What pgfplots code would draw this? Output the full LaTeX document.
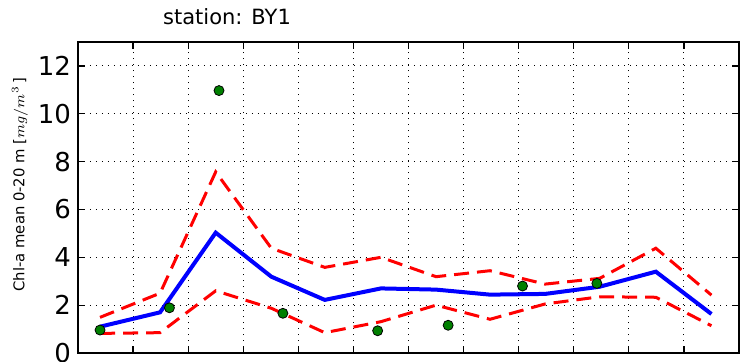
\documentclass[border=0pt]{standalone}
\usepackage{fontspec}
\setmainfont{DejaVu Sans}
\usepackage{pgfplots}
\pgfplotsset{compat=1.18}
\definecolor{mpgreen}{rgb}{0,0.5,0}
\begin{document}
\begin{tikzpicture}
\useasboundingbox (-39pt,-4pt) rectangle (331pt,176.5pt);
\begin{axis}[
 at={(0,0)}, anchor=south west,
 scale only axis, width=330.5pt, height=155.5pt,
 xmin=0, xmax=12, ymin=0, ymax=13,
 xtick={0,...,12}, xticklabels={},
 ytick={0,2,...,12},
 tick align=inside, major tick length=3.5pt,
 tick pos=both,
 yticklabel pos=left,
 grid=major,
 major grid style={black, line width=0.5pt, dash pattern=on 0.7pt off 2.3pt},
 axis line style={line width=0.9pt},
 tick style={black, line width=0.6pt},
 ticklabel style={font=\fontsize{13}{13}\selectfont},
 /pgf/number format/assume math mode=true,
 every axis title/.style={at={(axis description cs:0,1)}, anchor=center, xshift=74.5pt, yshift=12.5pt, font=\fontsize{10.5}{12}\selectfont},
 title={station: BY1},
 every axis y label/.style={at={(axis description cs:0,0.5)}, anchor=center, rotate=90, yshift=29pt, xshift=6.5pt, font=\fontsize{7.4}{8}\selectfont},
 ylabel={Chl-a mean 0-20 m [$mg/m^3\,$]},
]
\addplot[red, line width=1.5pt, dash pattern=on 7.5pt off 4pt] coordinates {
 (0.40,1.49) (1.49,2.50) (2.50,7.57) (3.51,4.38) (4.48,3.58) (5.50,4.00)
 (6.50,3.19) (7.48,3.44) (8.48,2.88) (9.47,3.12) (10.49,4.38) (11.50,2.42)};
\addplot[red, line width=1.5pt, dash pattern=on 7.5pt off 4pt] coordinates {
 (0.40,0.82) (1.49,0.85) (2.50,2.60) (3.51,1.87) (4.48,0.85) (5.50,1.31)
 (6.50,2.00) (7.48,1.41) (8.48,2.05) (9.47,2.35) (10.49,2.33) (11.50,1.14)};
\addplot[blue, line width=2pt] coordinates {
 (0.40,1.10) (1.49,1.70) (2.50,5.03) (3.51,3.19) (4.48,2.22) (5.50,2.70)
 (6.50,2.65) (7.48,2.44) (8.48,2.47) (9.47,2.77) (10.49,3.40) (11.50,1.63)};
\addplot[only marks, mark=*, mark size=2.5pt, mark options={fill=mpgreen, draw=black, line width=0.4pt}] coordinates {
 (0.40,0.96) (1.66,1.89) (2.56,10.97) (3.72,1.66) (5.44,0.93) (6.72,1.16) (8.07,2.80) (9.42,2.91)};
\end{axis}
\end{tikzpicture}
\end{document}
